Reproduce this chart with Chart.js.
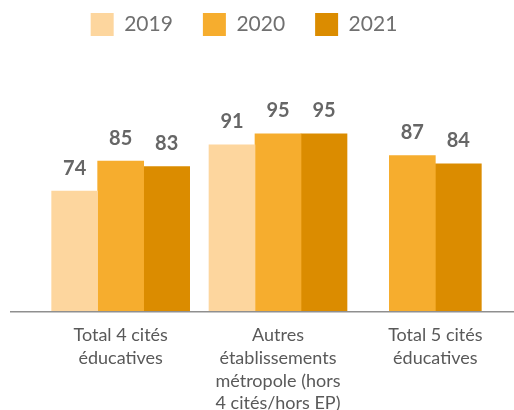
<!DOCTYPE html>
<html>
<head>
<meta charset="utf-8">
<script src="https://cdn.jsdelivr.net/npm/chart.js@4/dist/chart.umd.min.js"></script>
<style>
  html,body{margin:0;padding:0;background:#fff}
</style>
</head>
<body>
<canvas id="mychart" width="514" height="410"></canvas>
<script>
const Categories=[["Total 4 cités","éducatives"],["Autres","établissements","métropole (hors","4 cités/hors EP)"],["Total 5 cités","éducatives"]]
const Years=["2019","2020","2021"]
const Val2019=[74,91,null]
const Val2020=[85,95,87]
const Val2021=[83,95,84]
const Colors=["#FDD69E","#F6AD2E","#DB8C00"]

// value above each bar
const barValues={
    id:"barValues",
    afterDatasetsDraw(chart){
        const ctx=chart.ctx
        ctx.save()
        ctx.font="bold 20px Lato"
        ctx.fillStyle="#666666"
        ctx.textAlign="center"
        ctx.textBaseline="middle"
        chart.data.datasets.forEach((ds,i)=>{
            chart.getDatasetMeta(i).data.forEach((bar,j)=>{
                if(ds.data[j]==null) return
                ctx.fillText(ds.data[j],bar.x,bar.y-23)
            })
        })
        ctx.restore()
    }
}

// baseline running under the bars, a bit wider than the plot
const baseLine={
    id:"baseLine",
    beforeDatasetsDraw(chart){
        const ctx=chart.ctx
        const y=chart.chartArea.bottom+0.75
        ctx.save()
        ctx.strokeStyle="#8f8f8f"
        ctx.lineWidth=1.5
        ctx.beginPath()
        ctx.moveTo(10,y)
        ctx.lineTo(chart.width,y)
        ctx.stroke()
        ctx.restore()
    }
}

// legend: move it left and up (labels.padding also pushes it down)
const legendShift={
    id:"legendShift",
    afterLayout(chart){
        const lg=chart.legend
        lg.left-=34
        lg.right-=34
        lg.top-=17
        lg.bottom-=17
    }
}

new Chart("mychart",{
    type:"bar",
    data:{
        labels:Categories,
        datasets:[
            {label:Years[0],data:Val2019,backgroundColor:Colors[0]},
            {label:Years[1],data:Val2020,backgroundColor:Colors[1]},
            {label:Years[2],data:Val2021,backgroundColor:Colors[2]},
        ],
    },
    options:{
        responsive:false,
        animation:false,
        layout:{padding:{left:42,right:0,top:0,bottom:0}},
        datasets:{bar:{barThickness:46,skipNull:true}},
        plugins:{
            legend:{
                display:true,
                labels:{boxWidth:23,boxHeight:23,padding:30,color:"#707070",font:{family:"Lato",size:21}},
            },
            tooltip:{enabled:false},
        },
        scales:{
            x:{
                grid:{display:false,drawTicks:false},
                border:{display:false},
                ticks:{color:"#595959",padding:13,maxRotation:0,autoSkip:false,font:{family:"Lato",size:18,lineHeight:22.7/18}},
                afterFit(s){s.height=99},
            },
            y:{display:false,min:30,max:121},
        },
    },
    plugins:[barValues,baseLine,legendShift],
});
</script>
</body>
</html>
